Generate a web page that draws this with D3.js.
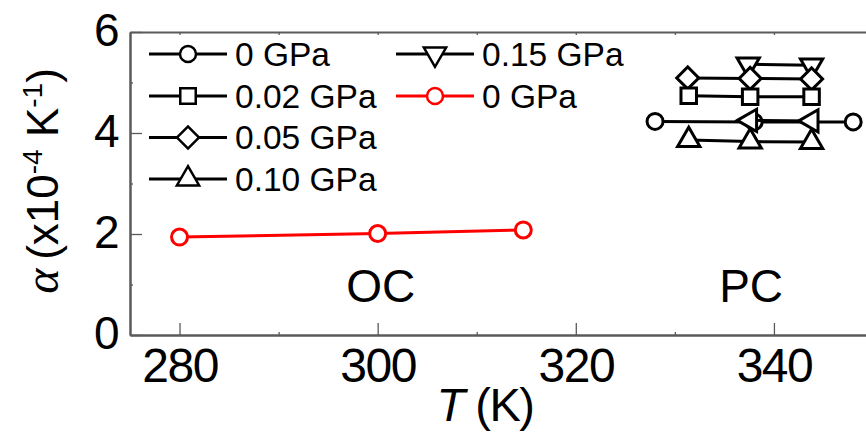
<!DOCTYPE html>
<html>
<head>
<meta charset="utf-8">
<script src="https://cdn.jsdelivr.net/npm/d3@7"></script>
<style>
  html, body { margin: 0; padding: 0; background: #fff; }
  svg { display: block; font-family: "Liberation Sans", Arial, sans-serif; }
</style>
</head>
<body>
<svg id="chart" width="866" height="437"></svg>
<script>
// Thermal expansion coefficient vs temperature, OC and PC phases

// x ticks / y ticks
const xMajorTicks = [280, 300, 320, 340];
const xMinorTicks = [290, 310, 330];
const yMajorTicks = [0, 2, 4, 6];
const yMinorTicks = [1, 3, 5];

// PC phase series under pressure: [T (K), alpha (x1e-4 K^-1)]
const pc0GPa    = [[328.0, 4.23], [338.0, 4.22], [348.0, 4.22]];
const pc002GPa  = [[331.4, 4.74], [337.6, 4.72], [343.8, 4.72]];
const pc005GPa  = [[331.3, 5.09], [337.6, 5.08], [343.8, 5.07]];
const pc010GPa  = [[331.4, 3.86], [337.6, 3.83], [343.8, 3.82]];
const pc015GPa  = [[337.4, 5.36], [343.8, 5.34]];
const pcLeftTri = [[337.6, 4.25], [343.8, 4.24]];

// OC phase at ambient pressure
const oc0GPa = [[280.0, 1.94], [300.0, 2.01], [314.7, 2.08]];

// legend entries
const legendLabels = ["0 GPa", "0.02 GPa", "0.05 GPa", "0.10 GPa", "0.15 GPa", "0 GPa"];

const svg = d3.select("#chart");
const x = d3.scaleLinear().domain([275, 350]).range([130, 873]);
const y = d3.scaleLinear().domain([0, 6]).range([335, 32]);

const AXIS_COLOR = "#5a5a5a";

// ---- axes ----
function styleAxis(g) {
  g.select(".domain").attr("stroke", AXIS_COLOR).attr("stroke-width", 2);
  g.selectAll(".tick line").attr("stroke", AXIS_COLOR).attr("stroke-width", 1.3);
}

// bottom
const gxMinor = svg.append("g").attr("transform", `translate(0,${y(0)})`)
  .call(d3.axisBottom(x).tickValues(xMinorTicks).tickSize(-3).tickSizeOuter(0).tickFormat(""));
styleAxis(gxMinor);
const gx = svg.append("g").attr("transform", `translate(0,${y(0)})`)
  .call(d3.axisBottom(x).tickValues(xMajorTicks).tickSize(-12).tickSizeOuter(0).tickFormat(d3.format("d")));
styleAxis(gx);
gx.selectAll(".tick text")
  .attr("y", 46.7).attr("dy", null)
  .attr("fill", "#000")
  .style("font-size", "48px").style("letter-spacing", "-1.5px");

// top
const gTop = svg.append("g").attr("transform", `translate(0,${y(6)})`)
  .call(d3.axisTop(x).tickValues(xMajorTicks.concat(xMinorTicks)).tickSize(-3).tickSizeOuter(0).tickFormat(""));
styleAxis(gTop);

// left
const gyMinor = svg.append("g").attr("transform", `translate(${x(275)},0)`)
  .call(d3.axisLeft(y).tickValues(yMinorTicks).tickSize(-3).tickSizeOuter(0).tickFormat(""));
styleAxis(gyMinor);
const gy = svg.append("g").attr("transform", `translate(${x(275)},0)`)
  .call(d3.axisLeft(y).tickValues(yMajorTicks).tickSize(-12).tickSizeOuter(0).tickFormat(d3.format("d")));
styleAxis(gy);
gy.selectAll(".tick text")
  .attr("x", -10.5).attr("y", 13.5).attr("dy", null)
  .attr("fill", "#000")
  .style("font-size", "46px");

// ---- axis titles ----
const xTitle = svg.append("text")
  .attr("x", 485).attr("y", 421)
  .attr("text-anchor", "middle")
  .style("font-size", "47px").style("letter-spacing", "-1.5px");
xTitle.append("tspan").style("font-style", "italic").text("T");
xTitle.append("tspan").text(" (K)");

const yTitle = svg.append("text")
  .attr("transform", "translate(58,181) rotate(-90)")
  .attr("text-anchor", "middle")
  .style("font-size", "44px");
yTitle.append("tspan")
  .style("font-family", "'Liberation Serif', serif")
  .style("font-style", "italic").style("font-size", "48px").text("α");
yTitle.append("tspan").text("\u2009(x10");
yTitle.append("tspan").attr("dy", -16).style("font-size", "28px").text("-4");
yTitle.append("tspan").attr("dy", 16).text(" K");
yTitle.append("tspan").attr("dy", -16).style("font-size", "28px").text("-1");
yTitle.append("tspan").attr("dy", 16).text(")");

// ---- phase labels ----
svg.append("text").attr("x", x(300.3)).attr("y", 302)
  .attr("text-anchor", "middle").style("font-size", "46px").text("OC");
svg.append("text").attr("x", x(337.7)).attr("y", 302)
  .attr("text-anchor", "middle").style("font-size", "46px").text("PC");

// ---- markers ----
const symCircle = d3.symbol().type(d3.symbolCircle).size(Math.PI * 8 * 8)();
const symSquare = d3.symbol().type(d3.symbolSquare).size(15.5 * 15.5)();
const symDiamond = d3.symbol().type(d3.symbolSquare).size(15.6 * 15.6)();
const symTriangle = d3.symbol().type(d3.symbolTriangle).size(215)();

const seriesDefs = [
  { data: pc015GPa,  path: symTriangle, rot: 180, color: "#000" },
  { data: pc005GPa,  path: symDiamond,  rot: 45,  color: "#000" },
  { data: pc002GPa,  path: symSquare,   rot: 0,   color: "#000" },
  { data: pc0GPa,    path: symCircle,   rot: 0,   color: "#000" },
  { data: pc010GPa,  path: symTriangle, rot: 0,   color: "#000" },
  { data: pcLeftTri, path: symTriangle, rot: -90, color: "#000" },
  { data: oc0GPa,    path: symCircle,   rot: 0,   color: "#ff0000" }
];

const line = d3.line().x(d => x(d[0])).y(d => y(d[1]));

const plot = svg.append("g");
seriesDefs.forEach(s => {
  const g = plot.append("g");
  g.append("path").attr("d", line(s.data))
    .attr("fill", "none").attr("stroke", s.color).attr("stroke-width", 3);
  g.selectAll("path.mk").data(s.data).join("path").attr("class", "mk")
    .attr("d", s.path)
    .attr("transform", d => `translate(${x(d[0])},${y(d[1])}) rotate(${s.rot})`)
    .attr("fill", "#fff").attr("stroke", s.color).attr("stroke-width", 3);
});

// ---- legend ----
const legendRows = [
  { col: 0, row: 0, path: symCircle,   rot: 0,   color: "#000" },
  { col: 0, row: 1, path: symSquare,   rot: 0,   color: "#000" },
  { col: 0, row: 2, path: symDiamond,  rot: 45,  color: "#000" },
  { col: 0, row: 3, path: symTriangle, rot: 0,   color: "#000" },
  { col: 1, row: 0, path: symTriangle, rot: 180, color: "#000" },
  { col: 1, row: 1, path: symCircle,   rot: 0,   color: "#ff0000" }
];
const colX = [149, 396];
const rowY = [54, 96, 137.5, 179];
const legend = svg.append("g");
legendRows.forEach((r, i) => {
  const x0 = colX[r.col], yy = rowY[r.row];
  const g = legend.append("g");
  g.append("line").attr("x1", x0).attr("x2", x0 + 78).attr("y1", yy).attr("y2", yy)
    .attr("stroke", r.color).attr("stroke-width", 3);
  g.append("path").attr("d", r.path)
    .attr("transform", `translate(${x0 + 39},${yy}) rotate(${r.rot})`)
    .attr("fill", "#fff").attr("stroke", r.color).attr("stroke-width", 2.5);
  g.append("text").attr("x", x0 + 86).attr("y", yy + 11.5)
    .style("font-size", "33.5px")
    .text(legendLabels[i]);
});
</script>
</body>
</html>
